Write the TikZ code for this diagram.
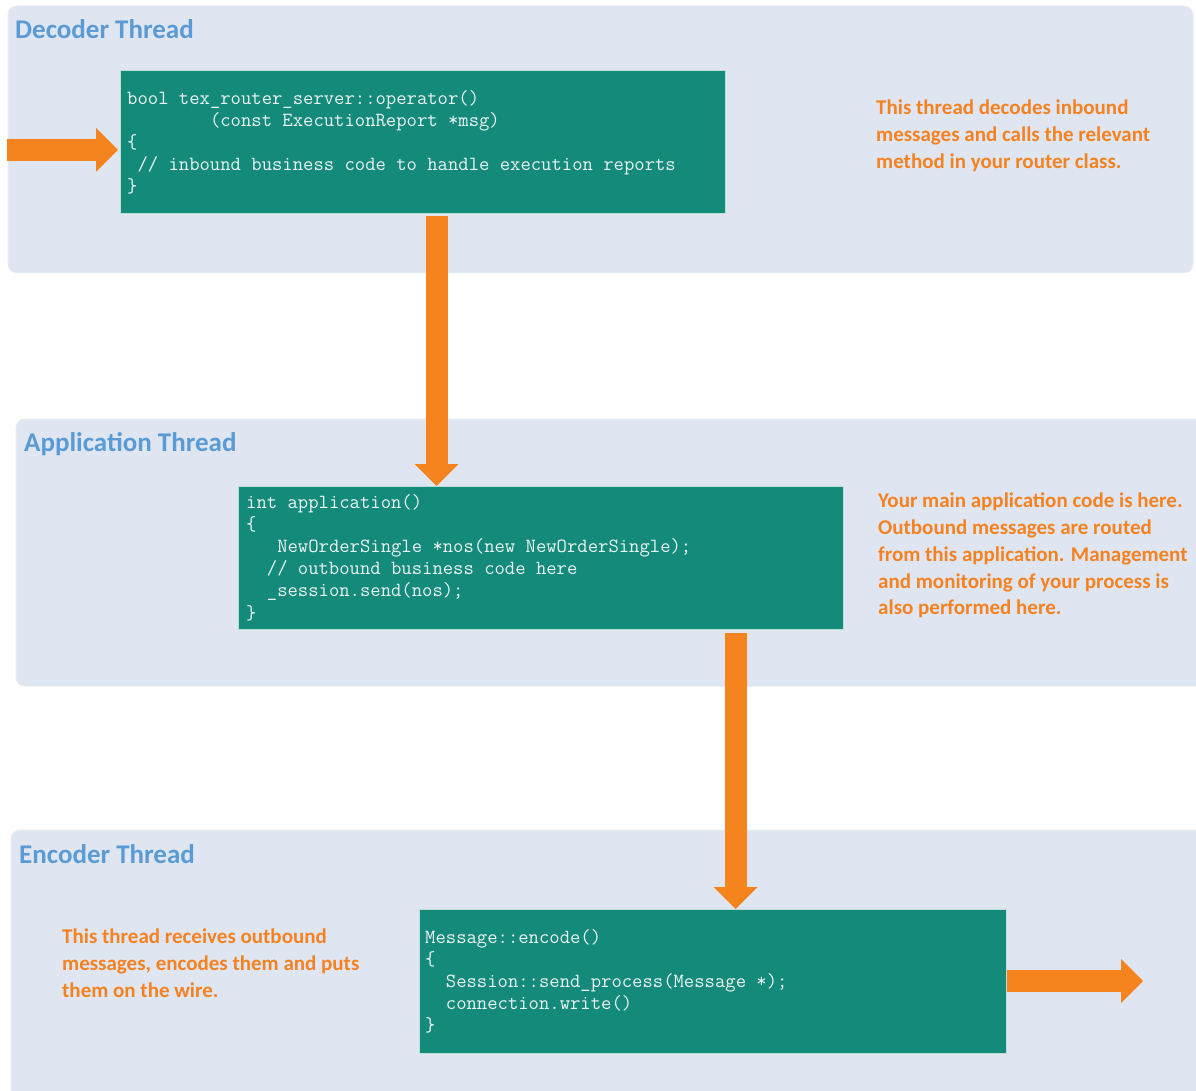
\documentclass[tikz,border=0pt]{standalone}
\usepackage{fontspec}
\setmainfont{Carlito}
\usetikzlibrary{arrows.meta,calc}
\definecolor{panelbg}{RGB}{223,230,242}
\definecolor{paneledge}{RGB}{232,237,246}
\definecolor{tealbox}{RGB}{19,138,122}
\definecolor{tealedge}{RGB}{190,222,216}
\definecolor{arroworange}{RGB}{245,132,31}
\definecolor{textorange}{RGB}{245,130,32}
\definecolor{titleblue}{RGB}{91,155,213}
\definecolor{codetext}{RGB}{236,244,242}
\tikzset{
  panel/.style={fill=panelbg, draw=paneledge, line width=1pt, rounded corners=9pt},
  codebox/.style={fill=tealbox, draw=tealedge, line width=1pt, inner sep=0pt, anchor=north west},
  codetxt/.style={text=codetext, font=\ttfamily\fontsize{20.1}{22.2}\selectfont, align=left, anchor=north west, inner sep=0pt},
  threadtitle/.style={text=titleblue, font=\bfseries\fontsize{27}{30}\selectfont, anchor=base west, inner sep=0pt},
  note/.style={text=textorange, font=\bfseries\fontsize{21}{26.7}\selectfont, align=left, anchor=north west, inner sep=0pt},
  bigarrow/.style={draw=arroworange, line width=22pt, -{Triangle[length=22pt,width=44pt,line width=0pt]}}
}
\begin{document}
\begin{tikzpicture}[x=1pt,y=-1pt]
\clip (0,0) rectangle (1196,1091);
\fill[white] (0,0) rectangle (1196,1091);
% panels
\draw[panel] (8,6) rectangle (1193,273);
\draw[panel] (16,419) rectangle (1210,686);
\draw[panel] (11,830) rectangle (1210,1105);
% titles
\node[threadtitle] (t1) at (15,39) {Decoder Thread};
\node[threadtitle] (t2) at (24,451) {Application Thread};
\node[threadtitle] (t3) at (19,863) {Encoder Thread};
% code boxes
\node[codebox, minimum width=605pt, minimum height=143pt] (dec) at (120,70) {};
\node[codebox, minimum width=605pt, minimum height=143pt] (app) at (238,486) {};
\node[codebox, minimum width=587pt, minimum height=144pt] (enc) at (419,909) {};
% code
\node[codetxt] (deccode) at (127,90) {bool tex\_router\_server::operator()\\
~~~~~~~~(const ExecutionReport *msg)\\
\{\\
~// inbound business code to handle execution reports\\
\}};
\node[codetxt] (appcode) at (246,494) {int application()\\
\{\\
~~~NewOrderSingle *nos(new NewOrderSingle);\\
~~// outbound business code here\\
~~\_session.send(nos);\\
\}};
\node[codetxt] (enccode) at (425,929) {Message::encode()\\
\{\\
~~Session::send\_process(Message *);\\
~~connection.write()\\
\}};
% notes
\node[note] (n1) at (876,100) {This thread decodes inbound\\messages and calls the relevant\\method in your router class.};
\node[note] (n2) at (878,493) {Your main application code is here.\\Outbound messages are routed\\from this application. Management\\and monitoring of your process is\\also performed here.};
\node[note] (n3) at (62,929) {This thread receives outbound\\messages, encodes them and puts\\them on the wire.};
% arrows
\coordinate (in) at (7,150);
\coordinate (out) at (1143,981);
\draw[bigarrow] (in) -- ([xshift=-2pt]in -| dec.west);
\draw[bigarrow] ([xshift=13.5pt,yshift=-2pt]dec.south) -- ([xshift=-104.5pt]app.north);
\draw[bigarrow] ([xshift=194.5pt,yshift=-3pt]app.south) -- ([xshift=22.5pt]enc.north);
\draw[bigarrow] (enc.east |- out) -- (out);
\end{tikzpicture}
\end{document}
